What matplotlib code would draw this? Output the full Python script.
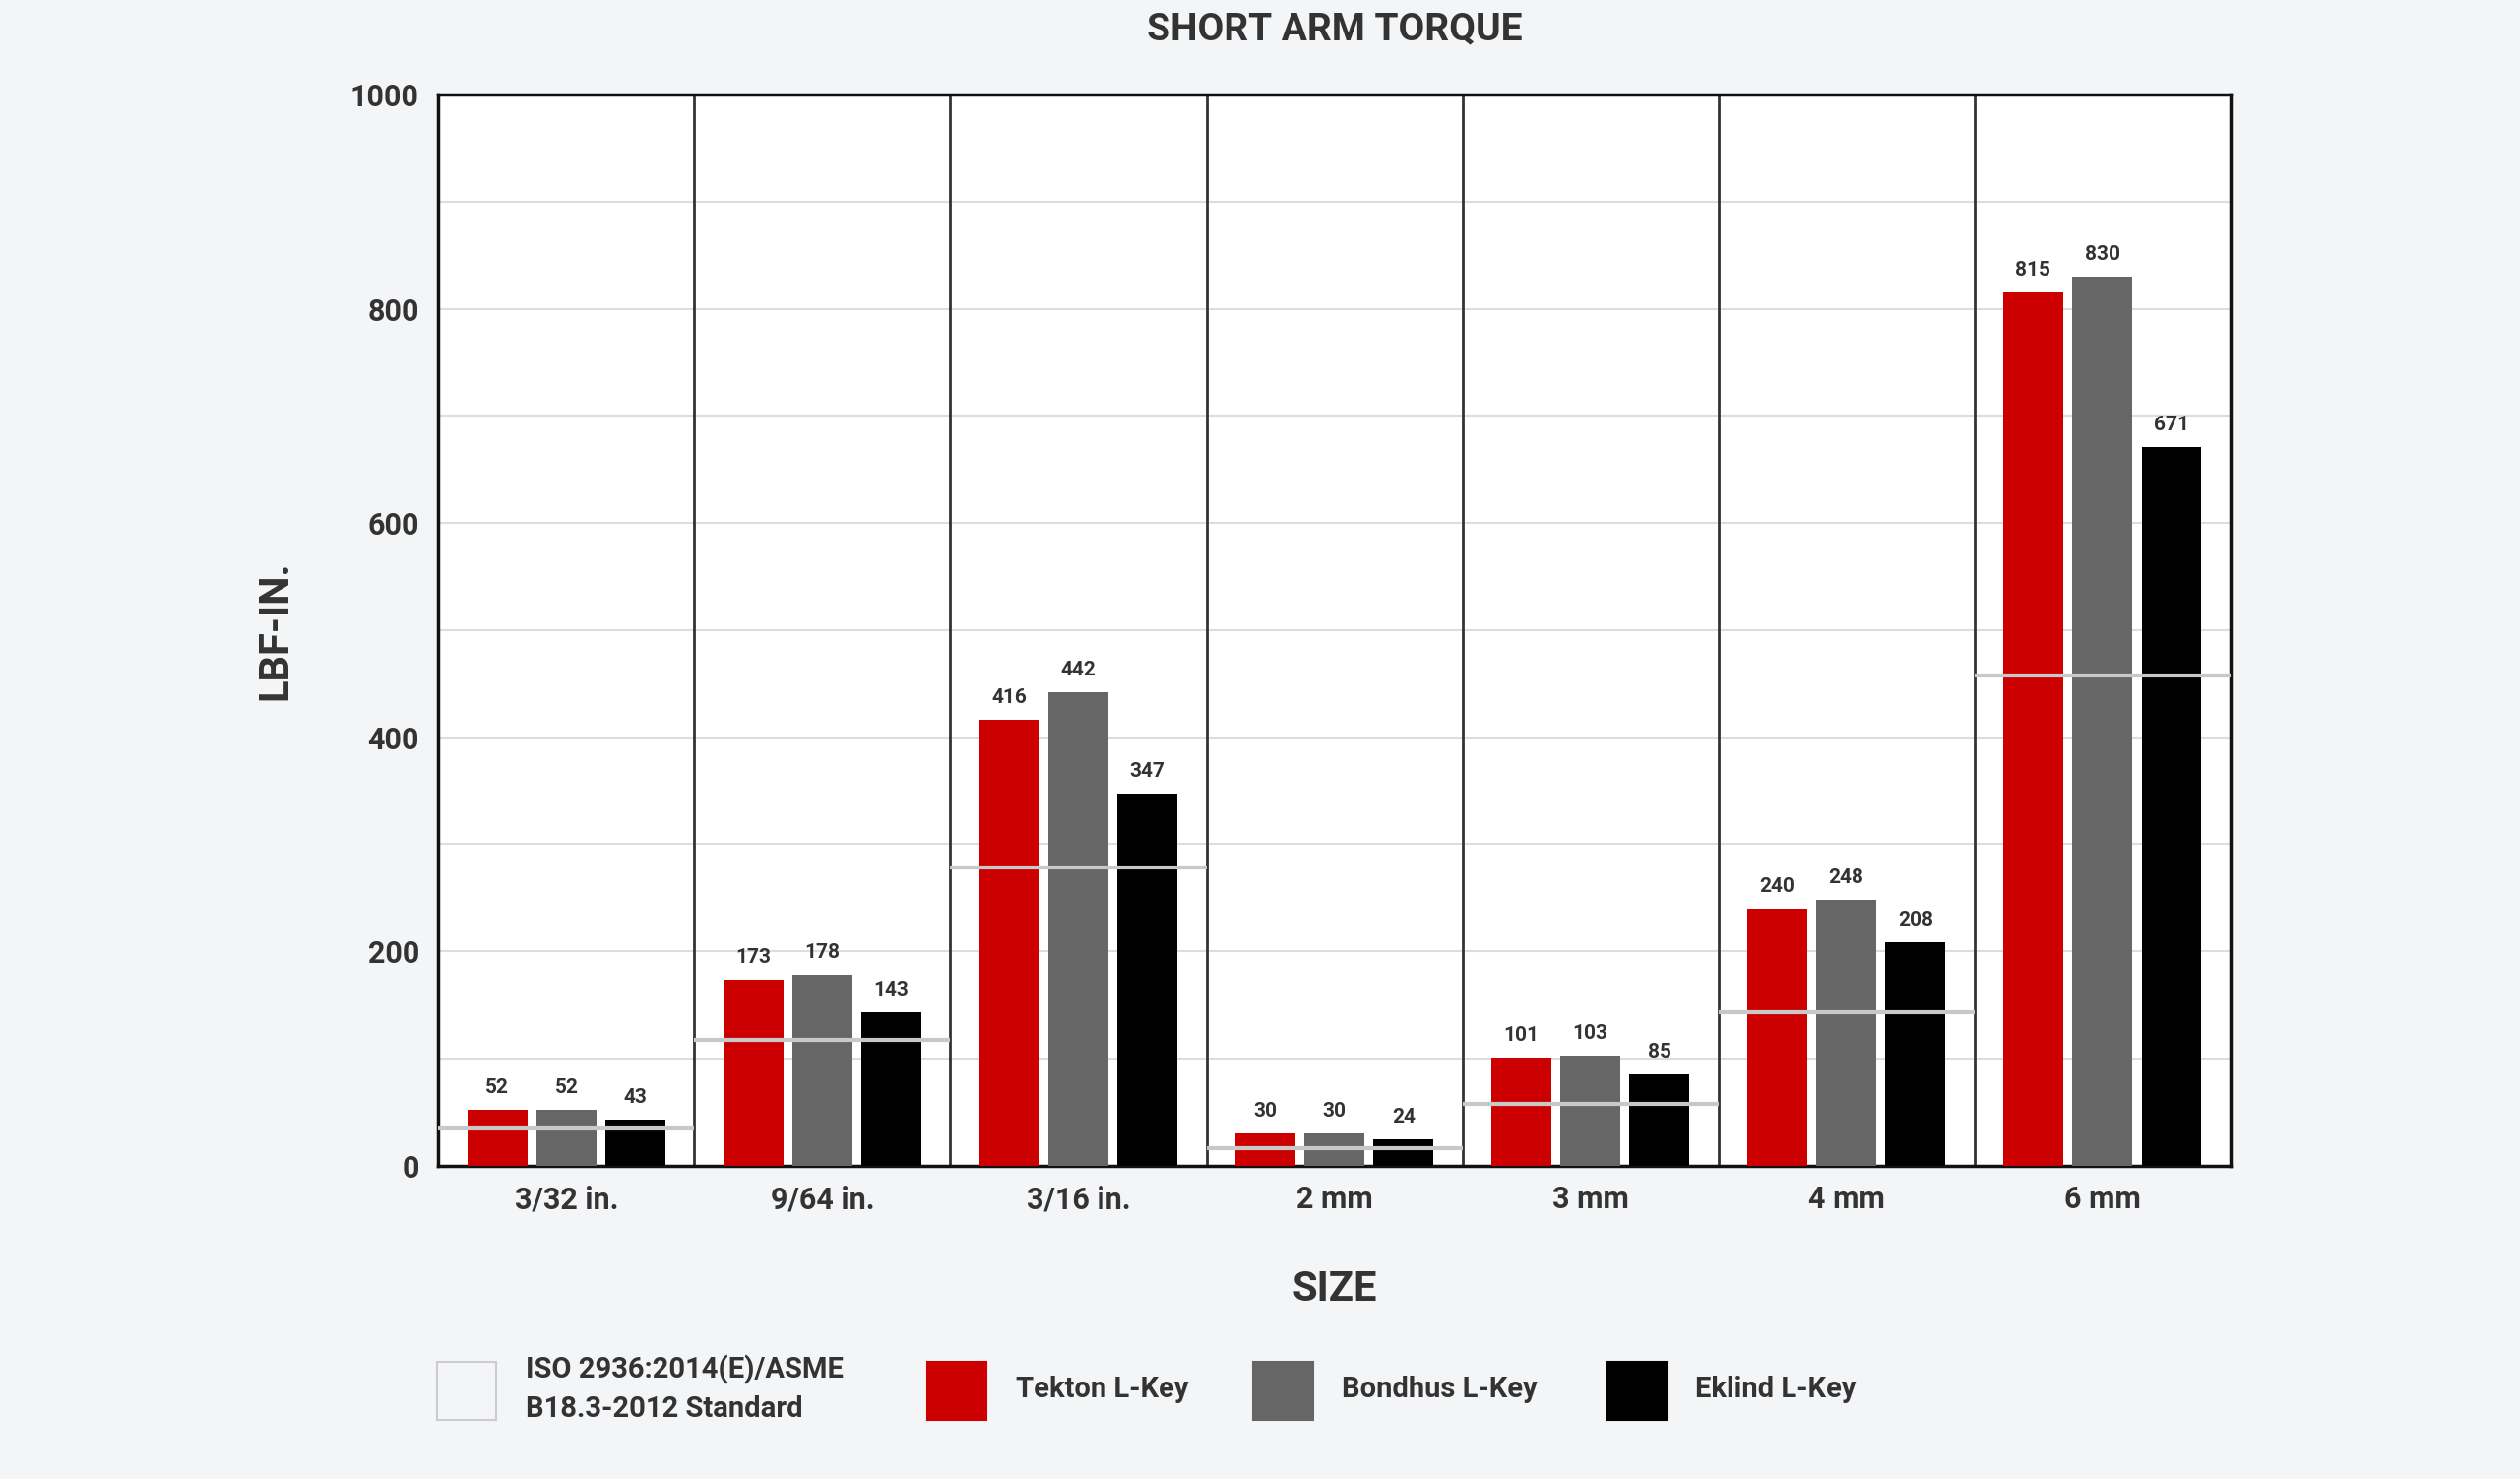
import matplotlib
matplotlib.use("Agg")
import matplotlib.pyplot as plt
from matplotlib.patches import Rectangle
import numpy as np

plt.rcParams['font.family'] = ['Roboto', 'DejaVu Sans']

sizes = ["3/32 in.", "9/64 in.", "3/16 in.", "2 mm", "3 mm", "4 mm", "6 mm"]
tekton = [52, 173, 416, 30, 101, 240, 815]
bondhus = [52, 178, 442, 30, 103, 248, 830]
eklind = [43, 143, 347, 24, 85, 208, 671]
iso_std = [35, 117, 278, 16, 58, 143, 458]

bg = "#f4f5f7"
fig = plt.figure(figsize=(25.6, 15.02), dpi=100, facecolor=bg)
ax = fig.add_axes([0.174, 0.212, 0.711, 0.724])
ax.set_facecolor("white")

x = np.arange(len(sizes))
w = 0.233
off = 0.27
series = [(tekton, "#cc0000"), (bondhus, "#666666"), (eklind, "#000000")]
for i, (vals, col) in enumerate(series):
    pos = x + (i - 1) * off
    ax.bar(pos, vals, width=w, color=col, zorder=3)
    for p, v in zip(pos, vals):
        ax.text(p, v + 12, str(v), ha="center", va="bottom", fontsize=15,
                fontweight="bold", color="#333333", zorder=4)
for xi, v in zip(x, iso_std):
    ax.hlines(v, xi - 0.5, xi + 0.5, color="#c8c8c8", lw=3, zorder=4)

ax.set_xlim(-0.5, len(sizes) - 0.5)
ax.set_ylim(0, 1000)
ax.set_yticks(range(0, 1001, 200))
ax.set_yticks(range(100, 1000, 200), minor=True)
ax.grid(axis="y", which="both", color="#dddddd", lw=1.5, zorder=0)
for xi in x[1:]:
    ax.axvline(xi - 0.5, color="#333333", lw=2, zorder=2)
ax.set_xticks(x)
ax.set_xticklabels(sizes)
ax.tick_params(axis="both", which="both", length=0, labelsize=22, colors="#333333", pad=14)
for t in ax.get_xticklabels() + ax.get_yticklabels():
    t.set_fontweight("bold")
for s in ax.spines.values():
    s.set_linewidth(2.5)
    s.set_color("#111111")

ax.set_xlabel("SIZE", fontsize=30, fontweight="bold", color="#333333", labelpad=40)
ax.set_ylabel("LBF-IN.", fontsize=30, fontweight="bold", color="#333333", labelpad=40)
ax.set_title("SHORT ARM TORQUE", fontsize=28, fontweight="bold", color="#333333", pad=40)

# legend
W, H = 2560, 1502
def leg(xpx, label, fc, ec):
    fig.patches.append(Rectangle((xpx / 1568, 1 - 883 / 920), 37 / 1568, 36 / 920,
                                 transform=fig.transFigure, facecolor=fc, edgecolor=ec, lw=1.5))
    fig.text((xpx + 55) / 1568, 1 - 864 / 920, label, fontsize=21, fontweight="bold",
             color="#333333", va="center", ha="left", linespacing=1.5)
leg(272, "ISO 2936:2014(E)/ASME\nB18.3-2012 Standard", bg, "#cccccc")
leg(577, "Tekton L-Key", "#cc0000", "#cc0000")
leg(780, "Bondhus L-Key", "#666666", "#666666")
leg(1000, "Eklind L-Key", "#000000", "#000000")

fig.savefig("out.png", dpi=100, facecolor=bg)
